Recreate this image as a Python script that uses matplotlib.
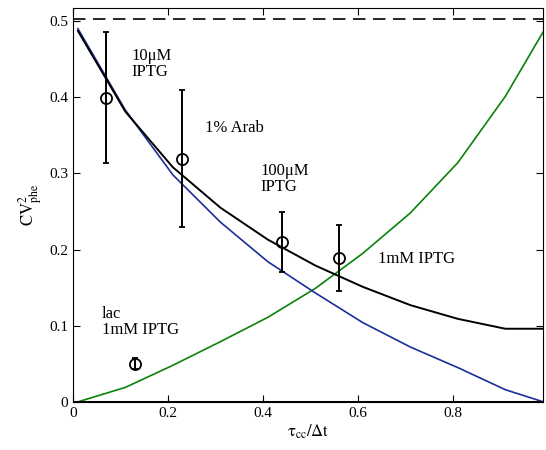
import matplotlib
matplotlib.use("Agg")
import matplotlib.pyplot as plt

plt.rcParams["font.family"] = ["Liberation Serif", "DejaVu Serif"]
plt.rcParams["mathtext.fontset"] = "stix"

# model curves
tau = [0.01, 0.11, 0.21, 0.31, 0.41, 0.51, 0.61, 0.71, 0.81, 0.91, 0.99]
cv_total = [0.487, 0.381, 0.308, 0.255, 0.213, 0.179, 0.151, 0.127, 0.109, 0.096, 0.096]
cv_blue = [0.490, 0.383, 0.298, 0.236, 0.184, 0.143, 0.104, 0.072, 0.045, 0.016, 0.0]
cv_green = [0.0, 0.019, 0.048, 0.079, 0.111, 0.149, 0.195, 0.248, 0.314, 0.401, 0.486]
cv_limit = 0.503

# measurements
meas_x = [0.07, 0.23, 0.44, 0.56, 0.13]
meas_y = [0.399, 0.319, 0.210, 0.189, 0.050]
meas_err = [0.086, 0.090, 0.039, 0.043, 0.007]

labels = ["10\u03bcM\nIPTG", "1% Arab", "100\u03bcM\nIPTG", "1mM IPTG", "lac\n1mM IPTG"]
label_x = [0.122, 0.278, 0.394, 0.642, 0.061]
label_y = [0.443, 0.360, 0.293, 0.188, 0.105]

fig = plt.figure(figsize=(5.46, 4.5), dpi=100)
ax = fig.add_axes([0.134, 0.107, 0.861, 0.875])

ax.plot(tau, cv_green, color="#0a820a", lw=1.2)
ax.plot(tau, cv_blue, color="#1c2d9a", lw=1.2)
ax.plot(tau, cv_total, color="black", lw=1.4)
ax.axhline(cv_limit, color="black", lw=1.2, ls=(0, (7.5, 4.5)))
ax.axhline(0, color="black", lw=2.2)

ax.errorbar(meas_x, meas_y, yerr=meas_err, fmt="o", mfc="none", mec="black",
            ecolor="black", ms=8, mew=1.3, elinewidth=1.4, capsize=2.5, capthick=1.4)

for t, x, y in zip(labels, label_x, label_y):
    ax.text(x, y, t, fontsize=12, va="center", ha="left", linespacing=1.0)

ax.set_xlim(0, 0.99)
ax.set_ylim(0, 0.517)
ax.set_xticks([0, 0.2, 0.4, 0.6, 0.8])
ax.set_xticklabels(["0", "0.2", "0.4", "0.6", "0.8"])
ax.set_yticks([0, 0.1, 0.2, 0.3, 0.4, 0.5])
ax.set_yticklabels(["0", "0.1", "0.2", "0.3", "0.4", "0.5"])
ax.tick_params(direction="in", top=True, right=True, labelsize=11, length=5)
ax.set_xlabel(r"$\mathrm{\tau_{cc}/\Delta t}$", fontsize=12, labelpad=2)
ax.set_ylabel(r"$\mathrm{CV}^2_{\mathrm{phe}}$", fontsize=12, labelpad=4)

fig.savefig("out.png", dpi=100)
